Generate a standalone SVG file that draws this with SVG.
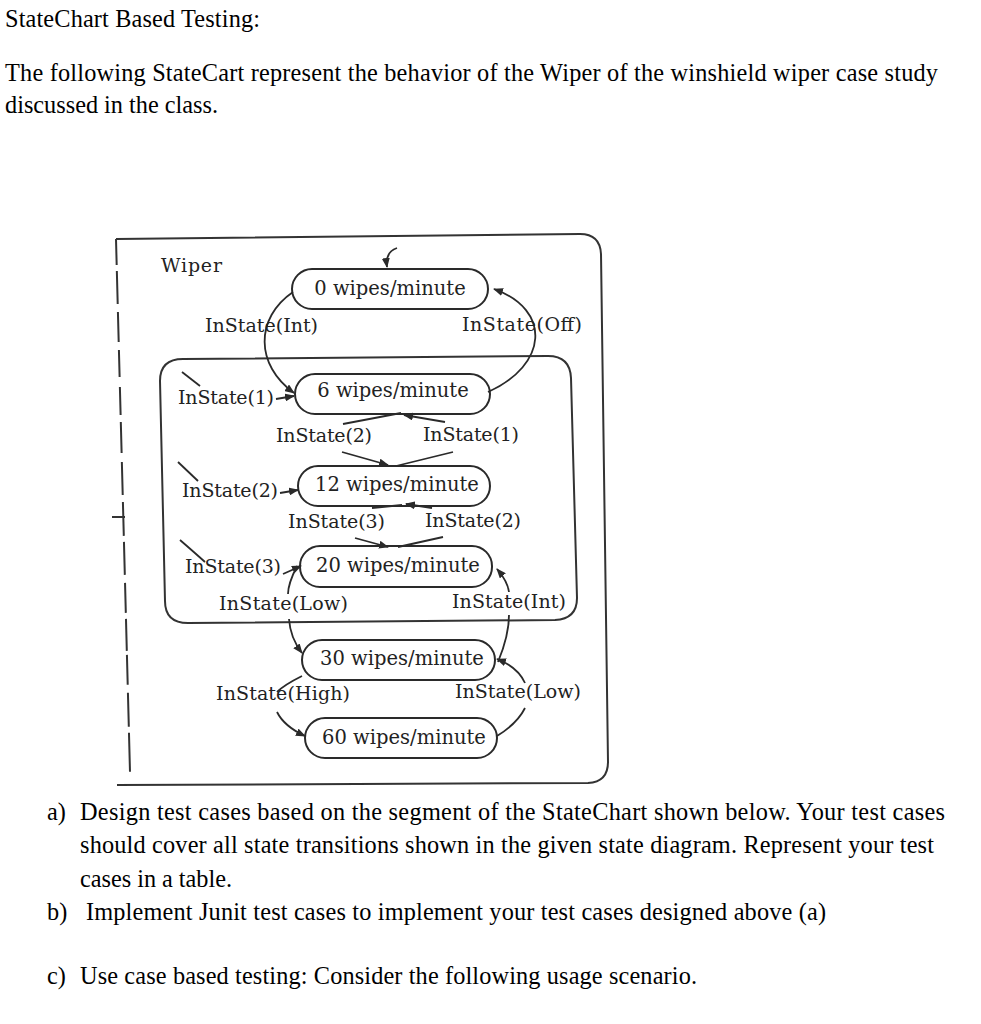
<svg xmlns="http://www.w3.org/2000/svg" width="981" height="1024" viewBox="0 0 981 1024">
<style>
.body{font-family:"Liberation Serif","Times New Roman",serif;font-size:24.3px;fill:#000}
.lbl{font-family:"DejaVu Serif","Liberation Serif",serif;font-size:19px;fill:#222}
.sl{font-family:"DejaVu Serif","Liberation Serif",serif;font-size:19.5px;fill:#222}
.st{fill:#fff;stroke:#2a2a2a;stroke-width:2}
.box{fill:none;stroke:#333;stroke-width:2}
.ln{fill:none;stroke:#2a2a2a;stroke-width:1.8}
.arr{marker-end:url(#ah)}
</style>
<defs>
<marker id="ah" markerUnits="userSpaceOnUse" markerWidth="10" markerHeight="8" refX="9" refY="4" orient="auto">
<path d="M0,0 L10,4 L0,8 z" fill="#2a2a2a"/>
</marker>
</defs>
<rect width="981" height="1024" fill="#fff"/>

<g id="header">
<text class="body" x="5" y="27" textLength="255">StateChart Based Testing:</text>
<text class="body" x="5" y="81" textLength="933">The following StateCart represent the behavior of the Wiper of the winshield wiper case study</text>
<text class="body" x="5" y="113" textLength="213">discussed in the class.</text>
</g>

<g id="wiper-superstate">
<path class="box" d="M116 239 L580 234 Q600 234 601 254 L608 762 Q608 782 588 783 L117 785"/>
<path class="box" d="M116 239 L130 772" stroke-dasharray="26 6 33 8 30 8 27 10 28 7 31 9 33 7 34 6 33 8 30 6 32 4 30 8 34 6 39 30"/>
<path class="box" d="M112 517 L125 517"/>
<text class="lbl" x="161" y="272" textLength="61">Wiper</text>
</g>

<g id="int-superstate">
<path class="box" d="M183 359 L548 356 Q570 356 571 378 L577 598 Q577 619 555 620 L188 623 Q165 623 165 601 L160 381 Q160 359 183 359 Z"/>
</g>

<g id="s0">
<rect class="st" x="292" y="269" width="196" height="40" rx="20"/>
<text class="sl" x="390" y="295" text-anchor="middle">0 wipes/minute</text>
</g>
<g id="s6">
<rect class="st" x="295" y="374" width="195" height="40" rx="20"/>
<text class="sl" x="393" y="397" text-anchor="middle">6 wipes/minute</text>
</g>
<g id="s12">
<rect class="st" x="298" y="466" width="192" height="40" rx="20"/>
<text class="sl" x="397" y="491" text-anchor="middle">12 wipes/minute</text>
</g>
<g id="s20">
<rect class="st" x="300" y="546" width="192" height="41" rx="20"/>
<text class="sl" x="398" y="572" text-anchor="middle">20 wipes/minute</text>
</g>
<g id="s30">
<rect class="st" x="302" y="640" width="193" height="40" rx="20"/>
<text class="sl" x="402" y="665" text-anchor="middle">30 wipes/minute</text>
</g>
<g id="s60">
<rect class="st" x="305" y="718" width="192" height="40" rx="20"/>
<text class="sl" x="404" y="744" text-anchor="middle">60 wipes/minute</text>
</g>

<g id="connectors">
<path class="ln arr" d="M397 248 Q385 252 387 267"/>
<path class="ln arr" d="M293 292 C255 318 255 365 294 393"/>
<path class="ln arr" d="M488 392 C548 365 552 310 494 289"/>
<path class="ln" d="M182 372 L200 386"/>
<path class="ln arr" d="M276 399 L294 396"/>
<path class="ln" d="M178 462 L198 481"/>
<path class="ln arr" d="M280 493 L298 490"/>
<path class="ln" d="M180 540 Q195 553 205 562"/>
<path class="ln arr" d="M283 574 L301 566"/>
<path class="ln" d="M401 413 L343 424"/>
<path class="ln arr" d="M342 452 L388 465"/>
<path class="ln" d="M396 466 L453 452"/>
<path class="ln arr" d="M445 422 L404 415"/>
<path class="ln" d="M402 505 L372 508"/>
<path class="ln arr" d="M355 538 L388 547"/>
<path class="ln" d="M398 547 L443 537"/>
<path class="ln arr" d="M432 508 L406 504"/>
<path class="ln" d="M297 566 C291 578 288 588 288 594"/>
<path class="ln arr" d="M289 619 C290 634 295 644 302 653"/>
<path class="ln" d="M498 662 C505 645 509 630 509 615"/>
<path class="ln arr" d="M509 592 C508 584 503 576 497 569"/>
<path class="ln" d="M302 676 C290 682 281 688 277 692"/>
<path class="ln arr" d="M277 712 C282 722 292 730 305 736"/>
<path class="ln" d="M497 736 C510 728 520 718 525 708"/>
<path class="ln arr" d="M525 683 C520 672 510 664 497 659"/>
</g>

<g id="labels">
<text class="lbl" x="205" y="332" textLength="113">InState(Int)</text>
<text class="lbl" x="462" y="331" textLength="120">InState(Off)</text>
<text class="lbl" x="178" y="404" textLength="96">InState(1)</text>
<text class="lbl" x="276" y="442" textLength="96">InState(2)</text>
<text class="lbl" x="423" y="441" textLength="96">InState(1)</text>
<text class="lbl" x="182" y="497" textLength="96">InState(2)</text>
<text class="lbl" x="288" y="528" textLength="97">InState(3)</text>
<text class="lbl" x="425" y="527" textLength="96">InState(2)</text>
<text class="lbl" x="185" y="573" textLength="96">InState(3)</text>
<text class="lbl" x="219" y="610" textLength="129">InState(Low)</text>
<text class="lbl" x="452" y="608" textLength="114">InState(Int)</text>
<text class="lbl" x="216" y="700" textLength="134">InState(High)</text>
<text class="lbl" x="455" y="698" textLength="126">InState(Low)</text>
</g>

<g id="questions">
<text class="body" x="47" y="820">a)</text>
<text class="body" x="80" y="820" textLength="865">Design test cases based on the segment of the  StateChart shown below. Your test cases</text>
<text class="body" x="80" y="853" textLength="854">should cover all state transitions shown in the given state diagram. Represent your test</text>
<text class="body" x="80" y="887" textLength="152">cases in a table.</text>
<text class="body" x="47" y="920">b)</text>
<text class="body" x="86" y="920" textLength="740">Implement Junit test cases to implement your test cases designed above (a)</text>
<text class="body" x="47" y="984">c)</text>
<text class="body" x="80" y="984" textLength="617">Use case based testing: Consider the following usage scenario.</text>
</g>
</svg>
